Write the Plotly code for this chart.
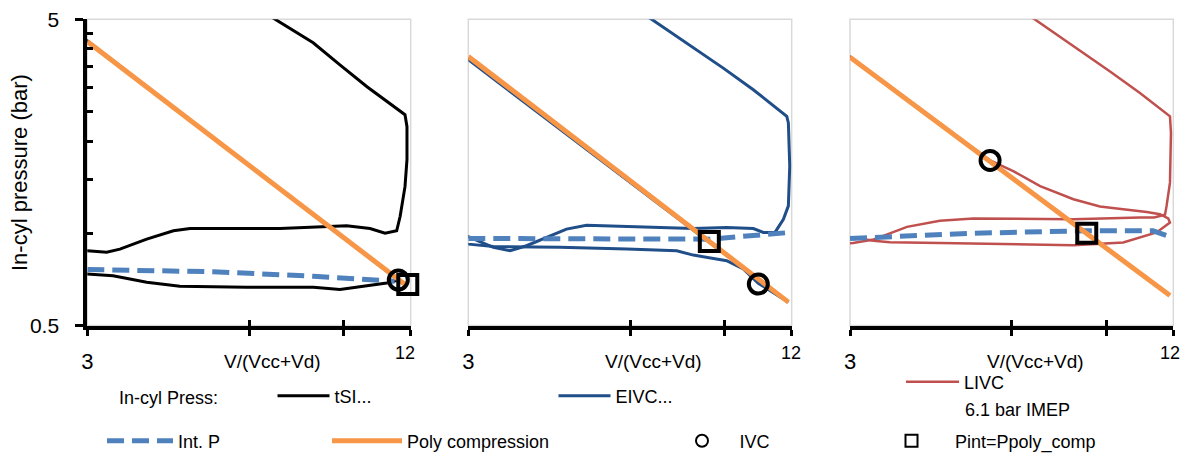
import math
import plotly.graph_objects as go

# ---------------- data ----------------
X_RANGE = [3, 12]
Y_RANGE = [0.5, 5]
X_TICKS = [3, 6, 9, 12]
X_TICKTEXT = ["3", "", "", ""]
Y_MAJOR = [0.5, 5]
Y_MAJOR_TEXT = ["0.5", "5"]
Y_MINOR = [1, 1.5, 2, 2.5, 3, 3.5, 4, 4.5]

# tSI in-cylinder pressure loop (V/(Vcc+Vd), bar); None separates exhaust and intake
tsi_v = [5.7, 6.71, 7.90, 8.86, 9.95, 11.71, 11.81, 11.81, 11.71, 11.47, 11.30, 10.75, 10.08,
         9.12, 6.85, 5.53, 4.66, 4.34, 3.87, 3.45, 3.26, 3.00, 2.90,
         None,
         2.90, 3.00, 3.35, 3.87, 4.46, 5.94, 7.91, 8.86, 9.80, 10.83, 11.38, 2.90]
tsi_p = [5.97, 5.00, 4.19, 3.55, 3.01, 2.44, 2.23, 1.74, 1.42, 1.137, 1.019, 1.001, 1.037,
         1.058, 1.037, 1.037, 1.037, 1.019, 0.957, 0.888, 0.867, 0.877, 0.880,
         None,
         0.740, 0.737, 0.727, 0.692, 0.672, 0.667, 0.667, 0.655, 0.672, 0.688, 0.704, 4.45]

# EIVC loop
eivc_v = [5.62, 6.59, 7.76, 8.95, 10.18, 11.75, 11.83, 11.90, 11.83, 11.58, 11.17, 10.63, 10.18,
          9.08, 7.87, 5.92, 4.98, 4.57, 4.20, 3.85, 3.59, 3.34, 3.00, 2.90,
          None,
          2.90, 3.00, 3.34, 3.85, 4.44, 5.92, 7.33, 7.87, 9.08, 9.75, 10.40, 11.83, 2.90]
eivc_p = [6.04, 5.00, 4.125, 3.464, 2.944, 2.411, 2.295, 1.658, 1.229, 1.112, 1.007, 1.007, 1.037,
          1.045, 1.037, 1.053, 1.063, 1.032, 0.970, 0.911, 0.877, 0.900, 0.975, 1.000,
          None,
          0.930, 0.922, 0.905, 0.905, 0.900, 0.888, 0.877, 0.849, 0.814, 0.765, 0.687, 0.596, 3.86]

# LIVC loop
livc_v = [5.66, 6.63, 7.17, 8.16, 9.15, 10.40, 11.83, 11.88, 11.83, 11.66, 11.58, 11.05, 10.40,
          7.82, 5.09, 4.41, 3.83, 3.56, 3.32, 3.04, 2.90,
          None,
          2.90, 3.04, 3.32, 3.56, 4.41, 5.87, 7.82, 9.68, 11.17, 11.83, 11.74, 11.33, 10.71,
          9.68, 8.76, 7.82, 6.78, 6.04, 5.47, 2.90]
livc_p = [6.05, 5.00, 4.557, 3.876, 3.377, 2.872, 2.411, 2.129, 1.464, 1.229, 1.150, 1.126, 1.126,
          1.112, 1.118, 1.100, 1.050, 1.000, 0.955, 0.930, 0.925,
          None,
          0.975, 0.970, 0.945, 0.935, 0.930, 0.922, 0.915, 0.934, 1.007, 1.085, 1.118, 1.155, 1.174,
          1.199, 1.223, 1.292, 1.427, 1.597, 1.730, 3.95]

# Intake pressure
pint_tsi_v = [3.0, 5.14, 7.91, 10.52, 11.2]
pint_tsi_p = [0.762, 0.749, 0.724, 0.700, 0.697]
pint_eivc_v = [3.0, 5.9, 8.5, 9.7, 11.95]
pint_eivc_p = [0.962, 0.955, 0.957, 0.977, 1.007]
pint_livc_v = [3.0, 5.0, 8.2, 11.0, 11.85]
pint_livc_p = [0.962, 1.000, 1.019, 1.019, 0.975]

# Polytropic compression
poly_tsi_v = [3.0, 11.81]
poly_tsi_p = [4.228, 0.673]
poly_eivc_v = [3.0, 11.83]
poly_eivc_p = [3.78, 0.596]
poly_livc_v = [3.0, 11.83]
poly_livc_p = [3.762, 0.626]

# IVC points (tSI, EIVC, LIVC)
ivc_v = [11.38, 10.40, 5.47]
ivc_p = [0.704, 0.683, 1.73]
# Pint = Ppoly_comp points
pint_eq_v = [11.85, 8.43, 8.28]
pint_eq_p = [0.68, 0.94, 1.00]

# ---------------- styling ----------------
W, H = 1183, 453
FONT = "Liberation Sans"
C_BLACK = "#000000"
C_NAVY = "#1f4e89"
C_RED = "#c0504d"
C_ORANGE = "#f79646"
C_BLUE = "#4f81bd"

def px(x):
    return x / W

def py(y):
    return 1 - y / H

X_DOMAINS = [[px(87.3), px(410.7)], [px(468.3), px(791.7)], [px(850.0), px(1173.3)]]
Y_DOMAIN = [py(325.5), py(19.3)]

loops = [
    (tsi_v, tsi_p, C_BLACK, 3, "tSI...", "legend"),
    (eivc_v, eivc_p, C_NAVY, 3, "EIVC...", "legend2"),
    (livc_v, livc_p, C_RED, 2.5, "LIVC", "legend3"),
]
pints = [(pint_tsi_v, pint_tsi_p), (pint_eivc_v, pint_eivc_p), (pint_livc_v, pint_livc_p)]
polys = [(poly_tsi_v, poly_tsi_p), (poly_eivc_v, poly_eivc_p), (poly_livc_v, poly_livc_p)]

fig = go.Figure()

for i in range(3):
    s = "" if i == 0 else str(i + 1)
    xa, ya = "x" + s, "y" + s
    lv, lp, lc, lw, lname, lleg = loops[i]
    fig.add_trace(go.Scatter(x=lv, y=lp, mode="lines", name=lname, legend=lleg,
                             line=dict(color=lc, width=lw),
                             xaxis=xa, yaxis=ya, showlegend=True, hoverinfo="skip"))
    fig.add_trace(go.Scatter(x=pints[i][0], y=pints[i][1], mode="lines", name="Int. P",
                             legend="legend4",
                             line=dict(color=C_BLUE, width=5, dash="17px,8px"),
                             xaxis=xa, yaxis=ya, showlegend=(i == 0), hoverinfo="skip"))
    fig.add_trace(go.Scatter(x=polys[i][0], y=polys[i][1], mode="lines", name="Poly compression",
                             legend="legend5",
                             line=dict(color=C_ORANGE, width=5),
                             xaxis=xa, yaxis=ya, showlegend=(i == 0), hoverinfo="skip"))
    fig.add_trace(go.Scatter(x=[ivc_v[i]], y=[ivc_p[i]], mode="markers", name="IVC",
                             legend="legend6", cliponaxis=False,
                             marker=dict(symbol="circle-open", size=19, color=C_BLACK,
                                         line=dict(width=4, color=C_BLACK)),
                             xaxis=xa, yaxis=ya, showlegend=(i == 0), hoverinfo="skip"))
    fig.add_trace(go.Scatter(x=[pint_eq_v[i]], y=[pint_eq_p[i]], mode="markers",
                             name="Pint=Ppoly_comp", legend="legend7", cliponaxis=False,
                             marker=dict(symbol="square-open", size=19, color=C_BLACK,
                                         line=dict(width=4, color=C_BLACK)),
                             xaxis=xa, yaxis=ya, showlegend=(i == 0), hoverinfo="skip"))
    # empty trace carrying the overlay axis used for the inner half of the crossing ticks
    fig.add_trace(go.Scatter(x=[None], y=[None], mode="lines", xaxis="x" + str(i + 4), yaxis=ya,
                             showlegend=False, hoverinfo="skip"))

layout = dict(
    width=W, height=H, autosize=False,
    margin=dict(l=0, r=0, t=0, b=0, autoexpand=False),
    paper_bgcolor="white", plot_bgcolor="white",
    font=dict(family=FONT, color="black", size=18),
    shapes=[], annotations=[],
)

xr = [math.log10(X_RANGE[0]), math.log10(X_RANGE[1])]
yr = [math.log10(Y_RANGE[0]), math.log10(Y_RANGE[1])]

for i in range(3):
    s = "" if i == 0 else str(i + 1)
    layout["xaxis" + s] = dict(
        domain=X_DOMAINS[i], type="log", range=xr, anchor="y" + s,
        showline=True, linecolor="black", linewidth=4,
        ticks="outside", ticklen=6, tickwidth=3, tickcolor="black",
        tickmode="array", tickvals=X_TICKS, ticktext=X_TICKTEXT,
        tickfont=dict(size=22), ticklabelstandoff=7,
        showgrid=False, zeroline=False, fixedrange=True,
    )
    layout["xaxis" + str(i + 4)] = dict(
        overlaying="x" + s, anchor="y" + s, type="log", range=xr,
        showline=False, ticks="inside", ticklen=6, tickwidth=3, tickcolor="black",
        tickmode="array", tickvals=X_TICKS, showticklabels=False,
        showgrid=False, zeroline=False, fixedrange=True,
    )
    ydict = dict(domain=Y_DOMAIN, type="log", range=yr, anchor="x" + s,
                 showgrid=False, zeroline=False, fixedrange=True)
    if i == 0:
        ydict.update(showline=True, linecolor="black", linewidth=4,
                     ticks="outside", ticklen=8, tickwidth=3, tickcolor="black",
                     tickmode="array", tickvals=Y_MAJOR, ticktext=Y_MAJOR_TEXT,
                     tickfont=dict(size=21), ticklabelstandoff=12,
                     minor=dict(ticks="inside", tickmode="array", tickvals=Y_MINOR,
                                ticklen=6, tickwidth=3, tickcolor="black", showgrid=False))
    else:
        ydict.update(showline=False, ticks="", showticklabels=False)
    layout["yaxis" + s] = ydict

    # light plot-area border
    layout["shapes"].append(dict(type="rect", xref="x" + s + " domain", yref="y" + s + " domain",
                                 x0=0, x1=1, y0=0, y1=1, layer="below",
                                 line=dict(color="#d9d9d9", width=1.5)))
    # axis title and end label
    layout["annotations"].append(dict(text="V/(Vcc+Vd)", xref="x" + s + " domain", yref="paper",
                                      x=0.573, y=py(361), xanchor="center", yanchor="middle",
                                      showarrow=False, font=dict(size=19)))
    layout["annotations"].append(dict(text="12", xref="x" + s + " domain", yref="paper",
                                      x=[0.982, 0.999, 0.990][i], y=py(353),
                                      xanchor="center", yanchor="middle",
                                      showarrow=False, font=dict(size=18)))

layout["annotations"].append(dict(text="In-cyl pressure (bar)", xref="paper", yref="paper",
                                  x=px(20), y=py(173), xanchor="center", yanchor="middle",
                                  textangle=-90, showarrow=False, font=dict(size=22)))
layout["annotations"].append(dict(text="In-cyl Press:", xref="paper", yref="paper",
                                  x=px(116.7), y=py(398), xanchor="left", yanchor="middle",
                                  showarrow=False, font=dict(size=18)))
layout["annotations"].append(dict(text="6.1 bar IMEP", xref="paper", yref="paper",
                                  x=px(962.7), y=py(410), xanchor="left", yanchor="middle",
                                  showarrow=False, font=dict(size=18)))

def legend_box(left, yc, itemwidth, sizing="trace"):
    return dict(x=px(left), y=py(yc), xanchor="left", yanchor="middle",
                bgcolor="rgba(0,0,0,0)", borderwidth=0, itemwidth=itemwidth,
                itemsizing=sizing, valign="middle", font=dict(size=18, family=FONT),
                itemclick=False, itemdoubleclick=False)

layout["legend"] = legend_box(272.5, 396, 52)
layout["legend2"] = legend_box(553.5, 396, 52)
layout["legend3"] = legend_box(901.0, 382, 53)
layout["legend4"] = legend_box(102.0, 441, 66)
layout["legend5"] = legend_box(327.0, 441, 70)
layout["legend6"] = legend_box(664.5, 441, 65, "constant")
layout["legend7"] = legend_box(868.0, 441, 77, "constant")

fig.update_layout(**layout)
fig.write_html("out.html")
